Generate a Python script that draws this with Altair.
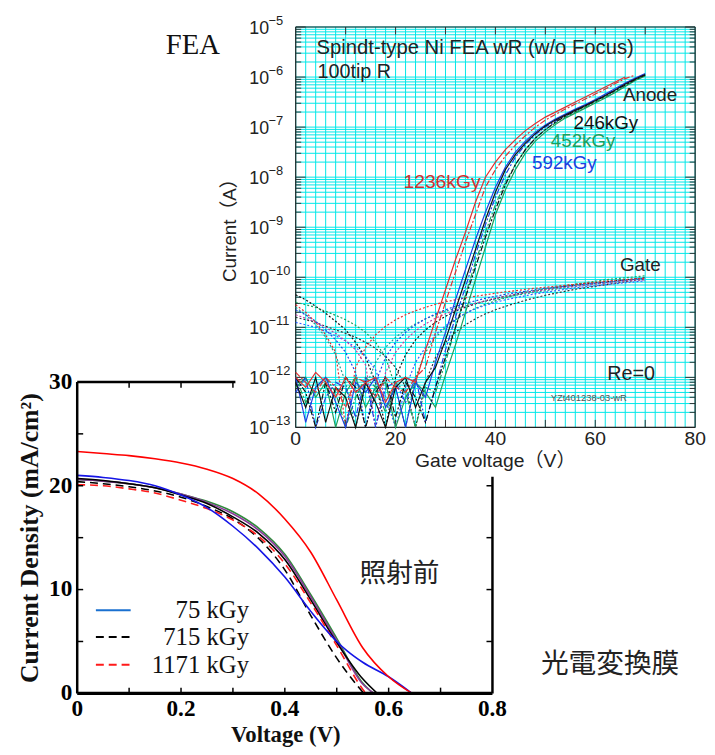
import math
import altair as alt
import pandas as pd

W, H = 707, 739
SANS = "Liberation Sans, Noto Sans CJK JP"
SERIF = "Liberation Serif"
CJK = "Noto Sans CJK JP"

# ================= lower panel : J-V curves =================
jv_red_V = [0, 0.05, 0.1, 0.15, 0.2, 0.25, 0.3, 0.35, 0.4, 0.45, 0.5, 0.55, 0.6, 0.645]
jv_red_J = [23.3, 23.1, 22.9, 22.6, 22.2, 21.6, 20.7, 19.2, 16.8, 13.6, 9.0, 4.4, 1.6, 0.0]
jv_blue_V = [0, 0.05, 0.1, 0.15, 0.2, 0.25, 0.3, 0.35, 0.4, 0.45, 0.5, 0.52, 0.55, 0.6, 0.645]
jv_blue_J = [21.0, 20.8, 20.5, 20.0, 19.1, 17.9, 16.1, 13.9, 11.2, 7.9, 5.0, 4.1, 3.0, 1.6, 0.0]
jv_kdash_V = [0, 0.05, 0.1, 0.15, 0.2, 0.25, 0.3, 0.35, 0.4, 0.45, 0.5, 0.52, 0.552]
jv_kdash_J = [20.4, 20.2, 19.9, 19.5, 18.9, 18.0, 16.8, 14.9, 11.9, 7.5, 3.4, 2.0, 0.0]
jv_rdash_V = [0, 0.05, 0.1, 0.15, 0.2, 0.25, 0.3, 0.35, 0.4, 0.45, 0.5, 0.55, 0.556]
jv_rdash_J = [20.1, 20.0, 19.7, 19.3, 18.6, 17.8, 16.7, 15.1, 12.5, 8.7, 4.6, 0.4, 0.0]
jv_black_V = [0, 0.05, 0.1, 0.15, 0.2, 0.25, 0.3, 0.35, 0.4, 0.45, 0.5, 0.55, 0.578]
jv_black_J = [20.7, 20.5, 20.2, 19.8, 19.1, 18.3, 17.0, 15.4, 12.9, 9.0, 4.9, 1.4, 0.0]
jv_green_V = [0, 0.05, 0.1, 0.15, 0.2, 0.25, 0.3, 0.35, 0.4, 0.45, 0.5, 0.55, 0.57]
jv_green_J = [20.6, 20.45, 20.2, 19.8, 19.2, 18.5, 17.5, 15.9, 13.4, 9.5, 5.3, 1.0, 0.0]
jv_purple_V = [0, 0.05, 0.1, 0.15, 0.2, 0.25, 0.3, 0.35, 0.4, 0.45, 0.5, 0.55, 0.572]
jv_purple_J = [20.6, 20.45, 20.2, 19.8, 19.2, 18.4, 17.3, 15.7, 13.2, 9.3, 5.1, 0.9, 0.0]

jv_legend_names = ["75 kGy", "715 kGy", "1171 kGy"]
jv_legend_colors = ["#1a70d0", "#000000", "#ff1a1a"]
jv_legend_rowJ = [8.0, 5.43, 2.76]

bx_ticks = [0.1, 0.2, 0.3, 0.4, 0.5, 0.6, 0.7]
bx_labels = [0, 0.2, 0.4, 0.6, 0.8]
by_ticks = [5, 10, 15, 20, 25]
by_labels = [0, 10, 20, 30]

# ================= upper panel : FEA I-V (log10 of current, A) =================
fea_V = list(range(0, 72, 2))

anode_black_1 = [-12.1, -12.6, -12.0, -12.9, -12.2, -12.4, -13.3, -12.1, -12.5, -13.2, -12.2, -12.0, -12.6, -12.1,
                 -11.8, -11.25, -10.65, -10.05, -9.45, -8.85, -8.3, -7.85, -7.55, -7.32, -7.13, -6.98, -6.86,
                 -6.76, -6.66, -6.57, -6.47, -6.37, -6.26, -6.14, -6.04, -5.95]
anode_black_2 = [-12.0, -12.3, -13.4, -12.1, -12.7, -12.0, -12.2, -13.1, -12.3, -12.0, -12.8, -12.1, -12.4, -12.9,
                 -12.2, -11.6, -11.0, -10.4, -9.8, -9.2, -8.65, -8.15, -7.75, -7.45, -7.22, -7.05, -6.9,
                 -6.78, -6.68, -6.58, -6.48, -6.38, -6.27, -6.16, -6.05, -5.96]
anode_green_1 = [-12.2, -12.0, -12.4, -12.1, -13.2, -12.3, -12.0, -12.6, -12.2, -12.1, -13.0, -12.4, -12.1, -12.3,
                 -12.6, -11.95, -11.35, -10.7, -10.05, -9.4, -8.75, -8.25, -7.85, -7.52, -7.28, -7.1, -6.95,
                 -6.82, -6.72, -6.62, -6.52, -6.42, -6.31, -6.19, -6.07, -5.98]
anode_green_2 = [-12.0, -12.5, -12.2, -12.0, -12.3, -13.1, -12.4, -12.0, -12.2, -12.7, -12.1, -12.3, -13.3, -12.2,
                 -12.3, -11.7, -11.0, -10.35, -9.7, -9.1, -8.55, -8.1, -7.75, -7.45, -7.22, -7.05, -6.92,
                 -6.8, -6.7, -6.6, -6.5, -6.4, -6.3, -6.18, -6.06, -5.97]
anode_blue_1 = [-12.0, -12.9, -12.2, -12.0, -12.5, -13.4, -12.1, -12.3, -12.0, -12.6, -12.2, -13.2, -12.1, -12.4,
                -11.7, -11.1, -10.45, -9.85, -9.25, -8.7, -8.2, -7.8, -7.5, -7.28, -7.1, -6.96, -6.84,
                -6.74, -6.64, -6.55, -6.45, -6.34, -6.23, -6.12, -6.02, -5.93]
anode_blue_2 = [-12.3, -12.0, -13.2, -12.4, -12.1, -12.2, -12.8, -12.0, -13.3, -12.2, -12.1, -12.5, -12.0, -12.9,
                -12.2, -11.45, -10.8, -10.2, -9.55, -8.95, -8.4, -7.95, -7.6, -7.35, -7.15, -7.0, -6.88,
                -6.77, -6.67, -6.57, -6.47, -6.36, -6.25, -6.13, -6.03, -5.94]
anode_red_1 = [-12.0, -12.2, -11.9, -12.1, -12.4, -12.0, -12.3, -12.1, -12.0, -12.5, -12.1, -12.0,
               -12.1, -11.45, -10.85, -10.25, -9.65, -9.1, -8.5, -8.0, -7.7, -7.45, -7.25, -7.07, -6.93,
               -6.8, -6.7, -6.6, -6.5, -6.4, -6.3, -6.2, -6.1, -6.0, None, None]
anode_red_2 = [-11.9, -12.1, -12.3, -12.0, -12.2, -12.6, -12.0, -12.1, -12.4, -12.0, -12.2, -12.3, -12.0,
               -11.8, -11.1, -10.5, -9.9, -9.3, -8.75, -8.2, -7.85, -7.58, -7.36, -7.17, -7.0, -6.86,
               -6.75, -6.64, -6.54, -6.44, -6.34, -6.24, -6.13, -6.03, -5.96, None]

gate_black_1 = [-10.35, -10.45, -10.58, -10.72, -10.88, -11.05, -11.3, -11.6, -12.1, -13.3, -12.0, -11.55,
                -11.25, -11.05, -10.9, -10.78, -10.68, -10.6, -10.53, -10.47, -10.42, -10.38, -10.34, -10.3,
                -10.27, -10.24, -10.21, -10.18, -10.15, -10.13, -10.11, -10.09, -10.07, -10.05, -10.03, -10.01]
gate_black_2 = [-10.8, -10.85, -10.9, -10.98, -11.05, -11.12, -11.2, -11.3, -11.42, -11.58, -11.8, -12.2,
                -13.3, -12.1, -11.6, -11.3, -11.1, -10.95, -10.83, -10.73, -10.65, -10.58, -10.52, -10.46,
                -10.41, -10.36, -10.32, -10.28, -10.24, -10.21, -10.18, -10.15, -10.12, -10.09, -10.06, -10.04]
gate_green_1 = [-10.5, -10.55, -10.6, -10.68, -10.76, -10.85, -10.96, -11.1, -11.3, -11.6, -12.2, -13.4,
                -12.0, -11.5, -11.2, -11.0, -10.85, -10.72, -10.62, -10.54, -10.47, -10.41, -10.36, -10.31,
                -10.27, -10.23, -10.2, -10.17, -10.14, -10.11, -10.08, -10.05, -10.03, -10.01, -9.99, -9.97]
gate_green_2 = [-10.6, -10.75, -10.95, -11.2, -11.55, -12.1, -13.3, -12.2, -11.7, -11.4, -11.2, -11.05,
                -10.93, -10.83, -10.75, -10.68, -10.62, -10.57, -10.52, -10.48, -10.44, -10.4, -10.36, -10.33,
                -10.3, -10.27, -10.24, -10.21, -10.18, -10.16, -10.13, -10.11, -10.08, -10.06, -10.04, -10.02]
gate_blue_1 = [-10.65, -10.75, -10.88, -11.05, -11.25, -11.5, -11.9, -13.2, -12.1, -11.6, -11.3, -11.1,
               -10.95, -10.83, -10.73, -10.65, -10.58, -10.52, -10.47, -10.42, -10.38, -10.34, -10.31, -10.28,
               -10.25, -10.22, -10.2, -10.18, -10.16, -10.14, -10.12, -10.1, -10.08, -10.06, -10.04, -10.02]
gate_blue_2 = [-10.9, -10.95, -11.0, -11.08, -11.17, -11.27, -11.4, -11.58, -11.85, -12.4, -13.3, -12.2,
               -11.7, -11.4, -11.15, -10.97, -10.83, -10.72, -10.63, -10.56, -10.5, -10.45, -10.41, -10.37,
               -10.33, -10.3, -10.27, -10.24, -10.21, -10.19, -10.17, -10.15, -10.13, -10.11, -10.09, -10.07]
gate_red_1 = [-10.55, -10.7, -10.9, -11.15, -11.5, -13.2, -11.8, -11.4, -11.15, -10.98, -10.85, -10.75,
              -10.67, -10.6, -10.54, -10.49, -10.45, -10.41, -10.38, -10.35, -10.32, -10.29, -10.27, -10.24,
              -10.22, -10.2, -10.18, -10.16, -10.14, -10.12, -10.1, -10.08, -10.06, -10.05, -10.03, -10.02]
gate_red_2 = [-10.75, -10.82, -10.9, -11.0, -11.12, -11.27, -11.45, -11.75, -13.3, -11.9, -11.5, -11.25,
              -11.07, -10.93, -10.82, -10.73, -10.65, -10.58, -10.52, -10.47, -10.42, -10.38, -10.34, -10.31,
              -10.28, -10.25, -10.22, -10.2, -10.18, -10.16, -10.14, -10.12, -10.1, -10.08, -10.06, -10.05]

tx_labels = [0, 20, 40, 60, 80]
tx_grid = list(range(0, 81, 2))
tx_ticks = [10, 20, 30, 40, 50, 60, 70]
ty_decades = [-13, -12, -11, -10, -9, -8, -7, -6, -5]
ty_mult = [2, 3, 4, 5, 6, 7, 8, 9]

# ================= scales (pixel placement of the two panels) =================
def TX():
    return alt.Scale(domain=[0, 80], range=[291, 695], nice=False, zero=False)

def TY():
    return alt.Scale(domain=[-13, -5], range=[420, 15], nice=False, zero=False, clamp=True)

def BX():
    return alt.Scale(domain=[0, 0.8], range=[70, 490], nice=False, zero=False)

def BY():
    return alt.Scale(domain=[0, 30], range=[689, 374], nice=False, zero=False)


def segs(df, xs, ys, color, width, dash=None):
    kw = dict(color=color, strokeWidth=width)
    if dash:
        kw["strokeDash"] = dash
    return alt.Chart(df).mark_rule(**kw).encode(
        x=alt.X("x:Q", scale=xs, axis=None), x2="x2:Q",
        y=alt.Y("y:Q", scale=ys, axis=None), y2="y2:Q")


def line(xv, yv, xs, ys, color, width, dash=None, interp="linear"):
    df = pd.DataFrame({"x": xv, "y": yv}).dropna()
    kw = dict(color=color, strokeWidth=width, interpolate=interp)
    if dash:
        kw["strokeDash"] = dash
    return alt.Chart(df).mark_line(**kw).encode(
        x=alt.X("x:Q", scale=xs, axis=None), y=alt.Y("y:Q", scale=ys, axis=None))


def label(text, x, y, size, color="#222222", font=SANS, align="left",
          baseline="middle", weight="normal", angle=0):
    kw = dict(align=align, baseline=baseline, fontSize=size, font=font,
              color=color, fontWeight=weight)
    if angle:
        kw["angle"] = angle
    return alt.Chart(pd.DataFrame({"t": [text]})).mark_text(**kw).encode(
        x=alt.value(x), y=alt.value(y), text="t:N")


layers = []

# ---------- lower panel ----------
jv_curves = [
    (jv_green_V, jv_green_J, "#2e8b3a", None),
    (jv_purple_V, jv_purple_J, "#8a3a9a", None),
    (jv_black_V, jv_black_J, "#000000", None),
    (jv_kdash_V, jv_kdash_J, "#000000", [8, 5]),
    (jv_rdash_V, jv_rdash_J, "#ff1a1a", [8, 5]),
    (jv_blue_V, jv_blue_J, "#1515e6", None),
    (jv_red_V, jv_red_J, "#ff0000", None),
]
for v, j, c, d in jv_curves:
    layers.append(line(v, j, BX(), BY(), c, 1.6, d, "monotone"))

frame_b = pd.DataFrame({"x": [0, 0, 0.8], "x2": [0.8, 0, 0.8], "y": [30, 0, 0], "y2": [30, 30, 30]})
layers.append(segs(frame_b, BX(), BY(), "#000000", 2.5))
layers.append(segs(pd.DataFrame({"x": [0], "x2": [0.8], "y": [0], "y2": [0]}), BX(), BY(), "#000000", 3.2))
tick_b = pd.DataFrame(
    [dict(x=v, x2=v, y=0, y2=0.55) for v in bx_ticks]
    + [dict(x=v, x2=v, y=30, y2=29.45) for v in bx_ticks]
    + [dict(x=0, x2=0.0115, y=j, y2=j) for j in by_ticks]
    + [dict(x=0.8, x2=0.7885, y=j, y2=j) for j in by_ticks])
layers.append(segs(tick_b, BX(), BY(), "#000000", 1.5))

layers.append(alt.Chart(pd.DataFrame({"v": bx_labels, "t": ["0", "0.2", "0.4", "0.6", "0.8"]}))
              .mark_text(font=SERIF, fontWeight="bold", fontSize=23.5, baseline="middle", color="#000")
              .encode(x=alt.X("v:Q", scale=BX(), axis=None), y=alt.value(705), text="t:N"))
layers.append(alt.Chart(pd.DataFrame({"j": by_labels, "t": [str(b) for b in by_labels]}))
              .mark_text(font=SERIF, fontWeight="bold", fontSize=23.5, baseline="middle", align="right", color="#000")
              .encode(x=alt.value(65), y=alt.Y("j:Q", scale=BY(), axis=None), text="t:N"))

leg = pd.DataFrame({"x": [0.036] * 3, "x2": [0.103] * 3, "y": jv_legend_rowJ, "y2": jv_legend_rowJ})
layers.append(segs(leg.iloc[[0]], BX(), BY(), jv_legend_colors[0], 2))
layers.append(segs(leg.iloc[[1]], BX(), BY(), jv_legend_colors[1], 2, [8, 5]))
layers.append(segs(leg.iloc[[2]], BX(), BY(), jv_legend_colors[2], 2, [8, 5]))
layers.append(alt.Chart(pd.DataFrame({"j": jv_legend_rowJ, "t": jv_legend_names}))
              .mark_text(font=SERIF, fontSize=25, align="right", baseline="middle", color="#111")
              .encode(x=alt.X("v:Q", scale=BX(), axis=None), y=alt.Y("j:Q", scale=BY(), axis=None), text="t:N")
              .transform_calculate(v="0.331"))

layers.append(label("Current Density (mA/cm²)", 22, 532, 26, "#111", SERIF, "center", "middle", "bold", 270))
layers.append(label("Voltage (V)", 281, 738, 23, "#111", SERIF, "center", "alphabetic", "bold"))
layers.append(label("照射前", 396, 568, 27, "#222", CJK, "center"))
layers.append(label("光電変換膜", 609, 660, 28, "#222", CJK, "center"))
layers.append(label("FEA", 187, 33, 29, "#111", SERIF, "center"))

# ---------- upper panel ----------
layers.append(alt.Chart(pd.DataFrame({"a": [0]})).mark_rect(color="white").encode(
    x=alt.value(230), x2=alt.value(W), y=alt.value(0), y2=alt.value(470)))

grid_v = pd.DataFrame({"x": tx_grid, "x2": tx_grid, "y": [-13] * len(tx_grid), "y2": [-5] * len(tx_grid)})
layers.append(segs(grid_v, TX(), TY(), "#00e8e8", 1))
hpos = [d + math.log10(k) for d in ty_decades[:-1] for k in ty_mult] + ty_decades
grid_h = pd.DataFrame({"x": [0] * len(hpos), "x2": [80] * len(hpos), "y": hpos, "y2": hpos})
layers.append(segs(grid_h, TX(), TY(), "#00e8e8", 1))

minor = [d + math.log10(k) for d in ty_decades[:-1] for k in ty_mult]
tick_t = pd.DataFrame(
    [dict(x=0, x2=1.1, y=p, y2=p) for p in minor]
    + [dict(x=80, x2=78.9, y=p, y2=p) for p in minor]
    + [dict(x=0, x2=2.0, y=p, y2=p) for p in ty_decades]
    + [dict(x=80, x2=78.0, y=p, y2=p) for p in ty_decades]
    + [dict(x=v, x2=v, y=-13, y2=-12.85) for v in tx_ticks]
    + [dict(x=v, x2=v, y=-5, y2=-5.15) for v in tx_ticks])
layers.append(segs(tick_t, TX(), TY(), "#333333", 1))
frame_t = pd.DataFrame({"x": [0, 0, 0, 80], "x2": [80, 80, 0, 80], "y": [-13, -5, -13, -13], "y2": [-13, -5, -5, -5]})
layers.append(segs(frame_t, TX(), TY(), "#222222", 1.2))

gates = [
    (gate_black_1, "#111111"), (gate_black_2, "#333333"),
    (gate_green_1, "#1e9e5a"), (gate_green_2, "#20a090"),
    (gate_blue_1, "#2040e0"), (gate_blue_2, "#3060ff"),
    (gate_red_1, "#e03030"), (gate_red_2, "#c040a0"),
]
for vals, c in gates:
    layers.append(line(fea_V, vals, TX(), TY(), c, 1.2, [2, 2]))

anodes = [
    (anode_green_1, "#1e9e5a", None), (anode_green_2, "#1e9e5a", [6, 2, 2, 2]),
    (anode_blue_1, "#2040e0", None), (anode_blue_2, "#2040e0", [6, 2, 2, 2]),
    (anode_black_1, "#111111", None), (anode_black_2, "#111111", [6, 2, 2, 2]),
    (anode_red_1, "#e03030", None), (anode_red_2, "#e03030", [6, 2, 2, 2]),
]
for vals, c, d in anodes:
    layers.append(line(fea_V, vals, TX(), TY(), c, 1.2, d))

dec_df = pd.DataFrame({"e": ty_decades, "t": ["10"] * len(ty_decades),
                       "x": ["−" + str(-e) for e in ty_decades]})
layers.append(alt.Chart(dec_df).mark_text(font=SANS, fontSize=18, align="left", baseline="middle",
                                          dy=2, color="#222")
              .encode(x=alt.value(244), y=alt.Y("e:Q", scale=TY(), axis=None), text="t:N"))
layers.append(alt.Chart(dec_df).mark_text(font=SANS, fontSize=13, align="left", baseline="middle",
                                          dy=-6, color="#222")
              .encode(x=alt.value(263.5), y=alt.Y("e:Q", scale=TY(), axis=None), text="x:N"))
layers.append(alt.Chart(pd.DataFrame({"v": tx_labels, "t": [str(v) for v in tx_labels]}))
              .mark_text(font=SANS, fontSize=19.5, baseline="middle", color="#222")
              .encode(x=alt.X("v:Q", scale=TX(), axis=None), y=alt.value(432), text="t:N"))

layers.append(label("Gate voltage（V）", 493, 454, 19.5, "#222", SANS, "center"))
layers.append(label("Current（A）", 225, 216, 19, "#222", SANS, "center", "middle", "normal", 270))
layers.append(label("Spindt-type Ni FEA wR (w/o Focus)", 312, 36, 20.5, "#222"))
layers.append(label("100tip R", 313, 61, 20, "#222"))
layers.append(label("Anode", 622, 84, 19, "#222"))
layers.append(label("246kGy", 572, 112, 19, "#111"))
layers.append(label("452kGy", 549, 130, 19, "#1e9e5a"))
layers.append(label("592kGy", 530, 153, 19, "#2040e0"))
layers.append(label("1236kGy", 400, 172, 19.5, "#d03030"))
layers.append(label("Gate", 619, 256, 19, "#222"))
layers.append(label("Re=0", 606, 366, 20, "#222"))
layers.append(label("YZt401238-03-wR", 549, 390, 9.5, "#555"))

chart = (alt.layer(*layers)
         .resolve_scale(x="independent", y="independent")
         .properties(width=W, height=H, autosize=alt.AutoSizeParams(type="none"), padding=0)
         .configure_view(strokeWidth=0))

chart.save("out.html", embed_options={"renderer": "svg", "actions": False})
